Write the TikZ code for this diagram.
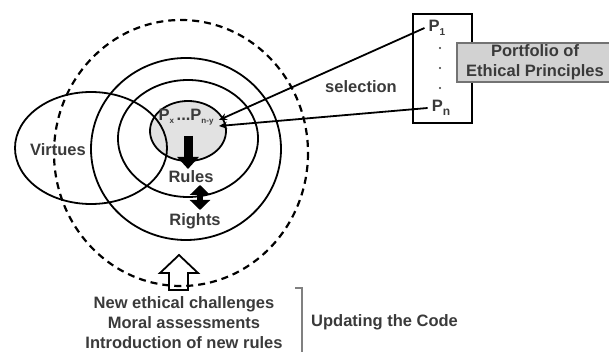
\documentclass[tikz,border=0pt]{standalone}
\usepackage{fontspec}
\setmainfont{Liberation Sans}
\usetikzlibrary{arrows.meta}
\definecolor{txtgray}{HTML}{3A3A3A}
\definecolor{boxgray}{HTML}{D2D2D2}
\definecolor{innergray}{HTML}{E2E2E2}

\begin{document}
\begin{tikzpicture}[x=1pt,y=-1pt,line width=1.8pt,
    every node/.style={font=\fontsize{16.5}{20}\selectfont\bfseries,text=txtgray}]
    \useasboundingbox (0,0) rectangle (609,352);
    % spheres
    \fill[innergray] (188,131) ellipse [x radius=38,y radius=30];
    \draw[dash pattern=on 7pt off 5pt,line width=2.2pt] (181,153) ellipse [x radius=127,y radius=133];
    \draw (91,148) ellipse [x radius=76,y radius=56];
    \draw (186,149) ellipse [x radius=95,y radius=91];
    \draw (188,138.5) ellipse [x radius=70,y radius=58.5];
    \draw (188,131) ellipse [x radius=38,y radius=30];
    \node (virtues) at (58,150) {Virtues};
    \node (rules) at (191,177) {Rules};
    \node (rights) at (195,221) {Rights};
    \node (pxy) at (186,117) {P\raisebox{-3pt}{\fontsize{8}{8}\selectfont x}\,...P\raisebox{-3pt}{\fontsize{8}{8}\selectfont n-y}};
    % arrows inside
    \coordinate (dtop) at (188,136);
    \draw[line width=9pt,-{Triangle[width=21pt,length=12pt]}] (dtop) -- (188,169);
    \coordinate (rtop) at (200,185);
    \coordinate (rbot) at (200,210);
    \draw[line width=6pt,{Triangle[width=20pt,length=10pt]}-{Triangle[width=20pt,length=10pt]}] (rtop) -- (rbot);
    % portfolio
    \node[draw,minimum width=59pt,minimum height=109pt] (pbox) at (442.5,68.5) {};
    \node (p1) at (437,28) {P\raisebox{-4pt}{\fontsize{10}{10}\selectfont 1}};
    \node (pn) at (441,108) {P\raisebox{-4pt}{\fontsize{12}{12}\selectfont n}};
    \foreach \y in {48,68,88} \fill[txtgray] (440,\y) circle (1.2pt);
    \node[draw=gray!90!black,fill=boxgray,line width=1.5pt,minimum width=156pt,minimum height=39pt,
      align=center,inner sep=0pt] (port) at (535,62.5) {Portfolio of\\Ethical Principles};
    \coordinate (hita) at (219,120);
    \coordinate (hitb) at (219,126);
    \draw[-{Stealth[length=8pt,width=7pt]}] (p1.west) -- (hita);
    \draw[-{Stealth[length=8pt,width=7pt]}] (pn.west) -- (hitb);
    \node (sel) at (361,87) {selection};
    % updating
    \draw (169,290) -- (169,273) -- (160,273) -- (179,255) -- (198,273) -- (188,273) -- (188,290) -- cycle;
    \node[align=center] (chal) at (184,323) {New ethical challenges\\Moral assessments\\Introduction of new rules};
    \draw[line width=1.2pt,gray] (295,288) -- (302,288) -- (302,352);
    \node[anchor=west] (upd) at (307,322) {Updating the Code};
  \end{tikzpicture}
\end{document}
